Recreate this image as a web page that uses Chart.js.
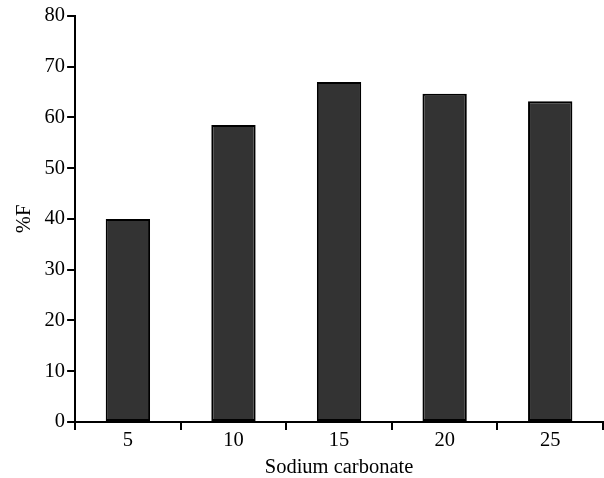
<!DOCTYPE html>
<html>
<head>
<meta charset="utf-8">
<script src="https://cdn.jsdelivr.net/npm/chart.js@4"></script>
<style>
  html, body { margin: 0; padding: 0; background: #fff; }
  #wrap { width: 604px; height: 478px; }
</style>
</head>
<body>
<div id="wrap"><canvas id="myChart"></canvas></div>
<script>
const categories = ['5', '10', '15', '20', '25'];
const percentF = [40.0, 58.5, 67.0, 64.7, 63.2];
const yTicks = [0, 10, 20, 30, 40, 50, 60, 70, 80];

const font = { family: '"Liberation Serif", "Times New Roman", serif', size: 20.5 };
const titleFont = { family: '"Liberation Serif", "Times New Roman", serif', size: 20.5, lineHeight: 1.0 };

const ctx = document.getElementById('myChart');

const chart = new Chart(ctx, {
  type: 'bar',
  data: {
    labels: categories,
    datasets: [{
      label: '%F',
      data: percentF,
      backgroundColor: '#333333',
      borderColor: '#000000',
      borderWidth: 2,
      borderSkipped: false,
      barPercentage: 0.42,
      categoryPercentage: 1
    }]
  },
  options: {
    responsive: true,
    maintainAspectRatio: false,
    animation: false,
    layout: { padding: { top: 16, right: 1, left: 8, bottom: 0 } },
    plugins: {
      legend: { display: false },
      tooltip: { enabled: false }
    },
    scales: {
      x: {
        offset: true,
        grid: { drawOnChartArea: false, drawTicks: true, tickLength: 8, color: '#000', lineWidth: 2, offset: true },
        border: { color: '#000', width: 2 },
        ticks: { color: '#000', font: font, padding: -2 },
        title: { display: true, text: 'Sodium carbonate', color: '#000', font: titleFont, padding: { top: 7, bottom: 0 } }
      },
      y: {
        min: 0,
        max: 80,
        afterBuildTicks: (axis) => { axis.ticks = yTicks.map(v => ({ value: v })); },
        grid: { drawOnChartArea: false, drawTicks: true, tickLength: 8, color: '#000', lineWidth: 2 },
        border: { color: '#000', width: 2 },
        ticks: { color: '#000', font: font, padding: 2 },
        title: { display: true, text: '%F', color: '#000', font: font, padding: { bottom: 6 } }
      }
    }
  }
});
</script>
</body>
</html>
